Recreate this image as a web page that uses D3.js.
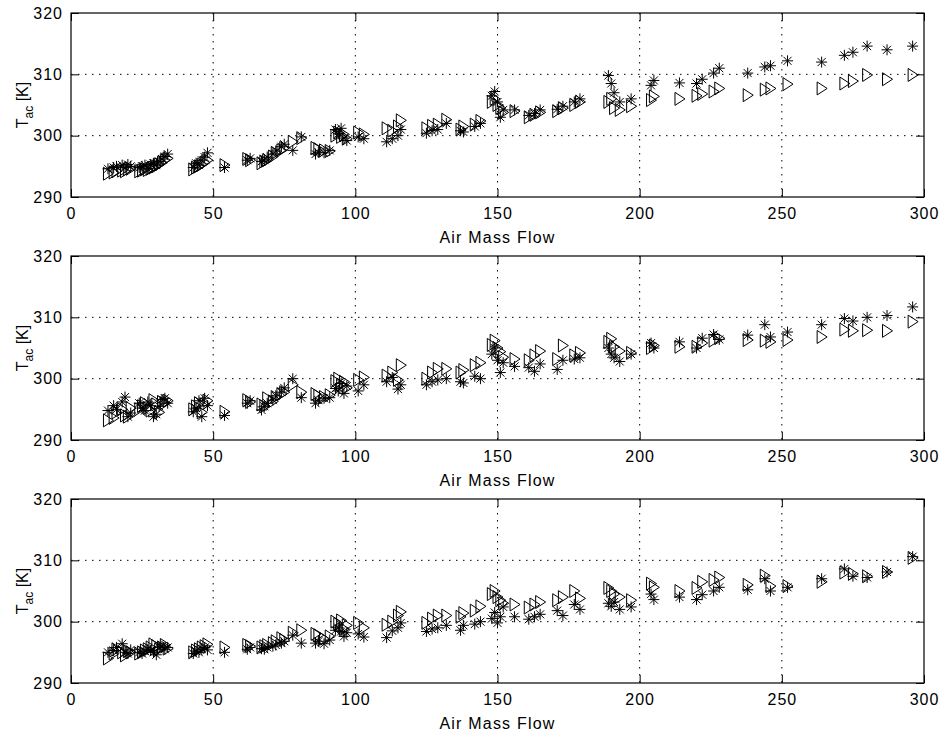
<!DOCTYPE html>
<html lang="en">
<head>
<meta charset="utf-8">
<title>Tac vs Air Mass Flow</title>
<script src="https://cdn.jsdelivr.net/npm/d3@7"></script>
<style>
body { margin: 0; background: #fff; }
svg { display: block; }
</style>
</head>
<body>
<script>
// air mass flow, same for every panel
var airFlow = [
  13, 15, 16, 18, 19, 20, 21,
  24, 25, 26, 27, 28, 29, 30, 31, 32, 33, 34,
  43, 44, 45, 46, 47, 48,
  54,
  62, 63,
  67, 68, 69, 71, 72, 74, 75,
  78, 81,
  86, 87, 89, 91,
  93, 94, 95, 96, 97,
  101, 103,
  111, 113, 115, 116,
  125, 127, 129,
  132,
  137, 138,
  142, 144,
  148, 149, 150, 151, 152,
  156,
  161, 163, 165,
  171, 173,
  177, 179,
  189, 190, 191, 193,
  197,
  204, 205,
  214, 220, 222, 226, 228, 238, 244, 246, 252, 264, 272, 275, 280, 287, 296
];

// panel 1
var star1 = [
  294.6, 294.8, 295.0, 295.2, 294.8, 295.3, 295.0,
  294.8, 295.0, 295.2, 294.6, 295.3, 295.5, 295.2, 295.8, 296.2, 296.6, 297.0,
  294.8, 295.5, 295.2, 296.0, 296.5, 297.2,
  294.8,
  296.0, 296.3,
  295.8, 296.0, 296.5, 297.0, 297.5, 298.2, 298.6,
  297.6, 299.8,
  297.0, 297.3, 297.2, 297.6,
  301.0, 300.3, 301.2, 299.6, 299.2,
  299.8, 299.5,
  299.0, 299.5, 300.0, 301.0,
  300.4, 300.8, 301.0,
  302.0,
  300.8, 300.6,
  301.5, 302.0,
  306.5, 307.2, 305.5, 303.0, 304.2,
  304.2,
  303.3, 303.6, 304.2,
  304.3, 304.8,
  305.5, 306.0,
  309.8, 308.5, 307.0, 305.5,
  306.0,
  308.2, 309.0,
  308.6, 308.5, 309.2, 310.2, 311.0, 310.2, 311.2, 311.4, 312.2, 312.0, 313.1, 313.6, 314.6, 314.0, 314.6
];
var tri1 = [
  293.8, 294.0, 294.2, 294.3, 294.2, 294.5, 294.6,
  294.2, 294.3, 294.5, 294.4, 294.6, 294.8, 295.0, 295.3, 295.6, 296.0, 296.3,
  294.5, 294.8, 295.0, 295.3, 295.6, 296.0,
  295.2,
  296.2, 296.0,
  295.5, 295.8, 296.0, 296.6, 297.2, 297.6, 298.0,
  299.0, 299.6,
  298.0, 297.8, 297.6, 297.5,
  300.0, 300.5, 299.8, 300.2, 299.5,
  300.5, 300.2,
  301.2, 300.8, 301.5, 302.5,
  301.2, 301.6, 301.8,
  302.6,
  301.0, 301.5,
  301.8, 302.4,
  305.5, 306.0, 305.0, 304.5, 303.8,
  304.0,
  303.0, 303.4, 303.8,
  304.0, 304.5,
  305.0, 305.5,
  305.5, 306.0, 304.5, 304.2,
  304.8,
  305.8, 306.4,
  306.0, 306.5, 306.8, 307.2, 307.7, 306.6, 307.5, 307.7, 308.4, 307.7, 308.5, 308.9, 309.9, 309.2, 309.9
];

// panel 2
var star2 = [
  294.8, 295.6, 295.0, 296.2, 297.0, 293.8, 294.4,
  296.0, 295.2, 294.8, 296.2, 295.6, 293.8, 294.2, 295.5, 296.6, 296.8, 296.0,
  294.6, 295.2, 296.4, 293.8, 296.8, 295.6,
  294.0,
  296.0, 296.4,
  294.9, 295.5, 296.0, 296.5, 297.2, 297.8, 298.5,
  300.0, 296.9,
  296.0, 296.5, 296.8, 296.9,
  298.4, 298.0, 299.2, 297.6, 298.8,
  298.0, 299.0,
  299.5, 300.2, 298.3, 299.0,
  299.0, 299.5, 299.8,
  300.0,
  299.5, 299.3,
  300.4, 300.0,
  304.0, 305.0, 303.0, 301.0, 302.6,
  302.0,
  301.8, 301.2, 302.4,
  301.5, 303.0,
  303.2, 303.4,
  305.0, 304.0, 303.4, 302.8,
  304.0,
  305.8, 305.0,
  306.0, 305.0, 306.6, 307.2, 306.4, 307.1, 308.8, 306.8, 307.6, 308.8, 309.8, 309.4, 310.0, 310.3, 311.7
];
var tri2 = [
  293.2, 293.6, 294.5, 295.0, 294.0, 293.8, 295.2,
  295.0, 295.5, 296.0, 295.2, 294.8, 296.5, 295.8, 294.5, 296.2, 296.0, 296.4,
  295.0, 295.5, 296.0, 294.5, 295.8, 296.4,
  294.6,
  296.5, 296.2,
  295.8, 295.5, 296.8, 296.3, 297.0, 297.5, 297.8,
  299.0, 297.8,
  297.5, 297.2, 297.0, 297.3,
  299.6, 300.0, 299.0, 299.5, 298.5,
  299.8, 300.2,
  300.5, 301.0, 299.8, 302.2,
  300.0, 301.0, 301.6,
  301.6,
  301.0, 301.4,
  302.2, 302.6,
  305.5, 306.2, 305.0, 304.4, 303.5,
  303.2,
  303.0, 303.8, 304.5,
  303.2, 305.4,
  303.8, 304.2,
  306.0, 306.5, 305.2, 304.5,
  304.2,
  305.0, 305.4,
  305.2, 305.2, 305.8, 306.2, 306.6, 306.3, 306.2, 306.0, 306.3, 306.8, 308.0, 307.8, 307.9, 307.8, 309.3
];

// panel 3
var star3 = [
  295.0, 295.3, 295.8, 296.4, 295.0, 294.8, 295.4,
  295.0, 294.8, 295.2, 295.5, 295.3, 295.0, 294.6, 295.8, 296.0, 295.5, 295.8,
  294.8, 295.2, 295.0, 295.5, 295.8, 295.4,
  295.0,
  295.5, 295.8,
  295.6, 295.5, 295.8, 296.0, 296.2, 296.5, 296.8,
  297.8, 296.5,
  296.5, 296.8, 296.4, 297.0,
  298.6, 299.0, 298.4, 297.6, 298.2,
  298.0, 297.5,
  297.4, 298.5, 299.0, 299.8,
  298.4, 298.8, 299.0,
  299.4,
  298.6, 299.4,
  299.6, 300.0,
  300.5, 301.5, 299.8, 300.8, 302.4,
  300.8,
  300.4, 300.8, 301.2,
  301.8, 301.0,
  302.8, 302.0,
  303.0, 302.5, 303.2, 302.0,
  302.4,
  304.5, 303.6,
  304.0, 303.6, 304.4, 305.0, 305.6, 305.2, 307.0, 305.0, 305.6, 307.0, 308.6, 307.4, 307.2, 308.1, 310.6
];
var tri3 = [
  294.0, 294.8, 295.5, 295.0, 294.5, 295.2, 295.0,
  294.8, 295.0, 295.3, 295.5, 295.8, 296.3, 296.0, 295.5, 295.8, 296.2, 295.6,
  295.0, 295.3, 295.5, 295.8, 296.0, 296.3,
  295.8,
  296.2, 296.0,
  295.8, 296.0, 296.2, 296.5, 296.8, 297.3, 297.0,
  298.2, 298.6,
  298.0, 297.8, 297.2, 297.6,
  300.0, 299.6, 300.2, 298.8, 299.4,
  299.8, 299.0,
  299.5, 300.0, 301.0, 301.6,
  299.8, 300.5, 301.0,
  301.0,
  300.8, 301.4,
  301.8, 302.5,
  304.5, 305.0, 304.0, 303.5, 303.0,
  302.8,
  302.3, 302.8, 303.2,
  303.5, 304.0,
  305.0, 303.8,
  305.5, 305.0, 304.5, 304.0,
  303.5,
  306.2, 305.6,
  305.0, 305.5, 306.5, 306.8, 307.2, 306.0, 307.5, 305.8, 305.8, 306.5, 308.0, 307.8, 307.4, 308.1, 310.4
];

var xTicks = [0, 50, 100, 150, 200, 250, 300];
var yTicks = [290, 300, 310, 320];
var xLabel = "Air Mass Flow";

var panels = [
  {star: star1, tri: tri1, top: 13},
  {star: star2, tri: tri2, top: 256},
  {star: star3, tri: tri3, top: 499}
];

var W = 943, H = 737;
var left = 71, right = 924, ph = 184;
var font = "'Liberation Sans', Arial, Helvetica, sans-serif";

var svg = d3.select("body").append("svg")
  .attr("width", W)
  .attr("height", H);

// marker shapes (matlab '*' and '>')
var starPath = "M-5.5,0H5.5M0,-5.5V5.5M-4,-4L4,4M-4,4L4,-4";
var triPath = "M-4.5,-6.5L5.5,0L-4.5,6.5Z";

panels.forEach(function(p) {
  var x = d3.scaleLinear().domain([0, 300]).range([left, right]);
  var y = d3.scaleLinear().domain([290, 320]).range([p.top + ph, p.top]);

  var g = svg.append("g");

  // dotted grid
  g.selectAll(".gx").data(xTicks.slice(1, -1)).enter().append("line")
    .attr("x1", function(d) { return x(d); })
    .attr("x2", function(d) { return x(d); })
    .attr("y1", y(320)).attr("y2", y(290))
    .attr("stroke", "#000").attr("stroke-width", 1)
    .attr("stroke-dasharray", "1.5,5.5");
  g.selectAll(".gy").data(yTicks.slice(1, -1)).enter().append("line")
    .attr("y1", function(d) { return y(d); })
    .attr("y2", function(d) { return y(d); })
    .attr("x1", x(0)).attr("x2", x(300))
    .attr("stroke", "#000").attr("stroke-width", 1)
    .attr("stroke-dasharray", "1.5,5.5");

  // axes, ticks pointing inward
  var bottom = g.append("g")
    .attr("transform", "translate(0," + y(290) + ")")
    .call(d3.axisBottom(x).tickValues(xTicks).tickSize(-8).tickPadding(10.5));
  var leftAx = g.append("g")
    .attr("transform", "translate(" + x(0) + ",0)")
    .call(d3.axisLeft(y).tickValues(yTicks).tickSize(-8).tickPadding(8));
  g.append("g")
    .attr("transform", "translate(0," + y(320) + ")")
    .call(d3.axisTop(x).tickValues(xTicks).tickSize(-8).tickFormat(""));
  g.append("g")
    .attr("transform", "translate(" + x(300) + ",0)")
    .call(d3.axisRight(y).tickValues(yTicks).tickSize(-8).tickFormat(""));

  g.selectAll(".domain").remove();
  g.selectAll(".tick line").attr("stroke", "#000");
  g.selectAll(".tick text")
    .attr("fill", "#000")
    .style("font-family", font)
    .style("font-size", "16px")
    .style("letter-spacing", "1px");

  // box
  g.append("rect")
    .attr("x", x(0)).attr("y", y(320))
    .attr("width", x(300) - x(0)).attr("height", y(290) - y(320))
    .attr("fill", "none").attr("stroke", "#000").attr("stroke-width", 1.2);

  // data
  g.selectAll(".st").data(p.star).enter().append("path")
    .attr("d", starPath)
    .attr("transform", function(d, i) { return "translate(" + x(airFlow[i]) + "," + y(d) + ")"; })
    .attr("fill", "none").attr("stroke", "#000").attr("stroke-width", 1);
  g.selectAll(".tr").data(p.tri).enter().append("path")
    .attr("d", triPath)
    .attr("transform", function(d, i) { return "translate(" + x(airFlow[i]) + "," + y(d) + ")"; })
    .attr("fill", "none").attr("stroke", "#000").attr("stroke-width", 1);

  // labels
  g.append("text")
    .attr("x", (x(0) + x(300)) / 2)
    .attr("y", y(290) + 45.5)
    .attr("text-anchor", "middle")
    .style("font-family", font)
    .style("font-size", "16px")
    .style("letter-spacing", "1.2px")
    .text(xLabel);

  var yl = g.append("text")
    .attr("transform", "translate(28," + (p.top + ph / 2) + ") rotate(-90)")
    .attr("text-anchor", "middle")
    .style("font-family", font)
    .style("font-size", "16px");
  yl.append("tspan").text("T");
  yl.append("tspan").attr("dy", 5).style("font-size", "12px").text("ac");
  yl.append("tspan").attr("dy", -5).text(" [K]");
});
</script>
</body>
</html>
